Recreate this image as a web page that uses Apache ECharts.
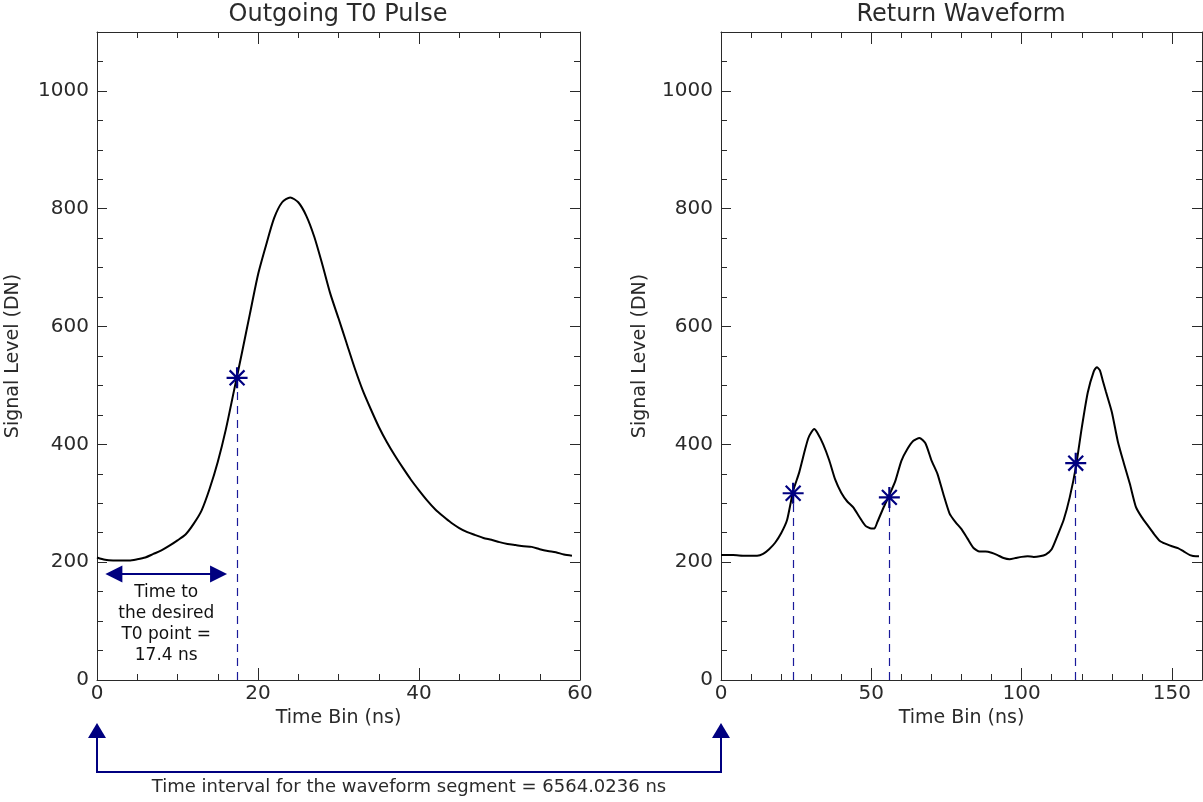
<!DOCTYPE html>
<html><head><meta charset="utf-8">
<script src="https://cdn.jsdelivr.net/npm/echarts@6/dist/echarts.min.js"></script>
<style>html,body{margin:0;padding:0;background:#fff}#c{width:1203px;height:802px}</style>
</head><body><div id="c"></div>
<script>
// ---------- data ----------
const pulseTime = [0,1,2,3,4,5,6,7,8,9,10,11,12,13,14,15,16,17,18,19,20,21,22,23,24,25,26,27,28,29,30,31,32,33,34,35,36,37,38,39,40,41,42,43,44,45,46,47,48,49,50,51,52,53,54,55,56,57,58,59];
const pulseSignal = [208,204,203,203,203,205,208,214,220,228,237,247,265,288,325,370,425,490,555,622,688,738,784,811,819,811,788,752,705,655,614,572,530,492,460,430,404,381,360,340,322,305,290,278,267,258,251,246,241,238,234,231,229,227,226,222,219,217,213,211];
const returnTime = [0,4,8,12,14,16,18,20,22,24,26,28,29,30,31,32,34,36,38,40,42,44,46,48,50,51,52,54,56,58,60,62,64,66,68,70,72,74,76,78,80,82,84,86,88,90,92,94,96,98,100,102,104,106,108,110,112,114,116,118,120,122,124,125,126,127,128,130,132,134,136,138,140,142,144,146,148,150,152,154,156,158,159];
const returnSignal = [212,212,211,211,214,222,233,249,272,321,352,392,410,420,426,420,400,373,340,318,303,293,277,262,257,257,268,292,314,338,372,392,406,411,402,373,350,315,283,268,256,240,224,218,218,216,212,207,205,207,209,210,209,210,213,222,246,272,310,360,428,488,524,531,526,508,490,455,405,368,333,294,276,262,248,236,231,227,224,218,212,210,210];
const pulseT0 = [[17.4, 513]];
const returnT0 = [[24, 317], [56, 310], [118, 368]];
const pulseXMajor = [0, 20, 40, 60];
const pulseXMinor = [5, 10, 15, 25, 30, 35, 45, 50, 55];
const returnXMajor = [0, 50, 100, 150];
const returnXMinor = [10, 20, 30, 40, 60, 70, 80, 90, 110, 120, 130, 140];
const yMajor = [0, 200, 400, 600, 800, 1000];
const yMinor = [50, 100, 150, 250, 300, 350, 450, 500, 550, 650, 700, 750, 850, 900, 950, 1050];
const arrowSpan = [[2.1, 180], [15.1, 180]];
const noteAnchor = [8.6, 95];
const noteText = ['Time to', 'the desired', 'T0 point =', '17.4 ns'];
const titles = ['Outgoing T0 Pulse', 'Return Waveform'];
const xName = 'Time Bin (ns)';
const yName = 'Signal Level (DN)';
const intervalText = 'Time interval for the waveform segment = 6564.0236 ns';

// ---------- style ----------
const FONT = 'DejaVu Sans';
const INK = '#2a2a2a';
const NAVY = '#000080';
const DASH = '#1a1a9a';
const STAR = 'path://M0,-10L0,10M-10,0L10,0M-7.07,-7.07L7.07,7.07M-7.07,7.07L7.07,-7.07';
const plain = v => String(v);

function xAxes(grid, max, major, minor) {
  const common = {type: 'value', gridIndex: grid, min: 0, max: max, splitLine: {show: false}};
  const line = {show: true, onZero: false, lineStyle: {color: INK, width: 1}};
  return [
    Object.assign({}, common, {
      position: 'bottom', name: xName, nameLocation: 'middle', nameGap: 20,
      nameTextStyle: {fontFamily: FONT, fontSize: 19, color: INK},
      axisLine: line,
      axisTick: {show: true, inside: true, length: 12, customValues: major, lineStyle: {color: INK}},
      axisLabel: {show: true, customValues: major, formatter: plain, margin: 4, fontFamily: FONT, fontSize: 20, color: INK}
    }),
    Object.assign({}, common, {
      position: 'bottom', axisLine: {show: false, onZero: false},
      axisTick: {show: true, inside: true, length: 6, customValues: minor, lineStyle: {color: INK}},
      axisLabel: {show: false}
    }),
    Object.assign({}, common, {
      position: 'top', axisLine: line,
      axisTick: {show: true, inside: true, length: 12, customValues: major, lineStyle: {color: INK}},
      axisLabel: {show: false}
    }),
    Object.assign({}, common, {
      position: 'top', axisLine: {show: false, onZero: false},
      axisTick: {show: true, inside: true, length: 6, customValues: minor, lineStyle: {color: INK}},
      axisLabel: {show: false}
    })
  ];
}
function yAxes(grid, gap) {
  const common = {type: 'value', gridIndex: grid, min: 0, max: 1100, splitLine: {show: false}};
  const line = {show: true, onZero: false, lineStyle: {color: INK, width: 1}};
  return [
    Object.assign({}, common, {
      position: 'left', name: yName, nameLocation: 'middle', nameGap: gap, nameRotate: 90,
      nameTextStyle: {fontFamily: FONT, fontSize: 19, color: INK},
      axisLine: line,
      axisTick: {show: true, inside: true, length: 10, customValues: yMajor, lineStyle: {color: INK}},
      axisLabel: {show: true, customValues: yMajor, formatter: plain, margin: 8, fontFamily: FONT, fontSize: 20, color: INK}
    }),
    Object.assign({}, common, {
      position: 'left', axisLine: {show: false, onZero: false},
      axisTick: {show: true, inside: true, length: 6, customValues: yMinor, lineStyle: {color: INK}},
      axisLabel: {show: false}
    }),
    Object.assign({}, common, {
      position: 'right', axisLine: line,
      axisTick: {show: true, inside: true, length: 10, customValues: yMajor, lineStyle: {color: INK}},
      axisLabel: {show: false}
    }),
    Object.assign({}, common, {
      position: 'right', axisLine: {show: false, onZero: false},
      axisTick: {show: true, inside: true, length: 6, customValues: yMinor, lineStyle: {color: INK}},
      axisLabel: {show: false}
    })
  ];
}
function zip(xs, ys) { return xs.map((x, i) => [x, ys[i]]); }
function dropLines(points) {
  return points.map(p => [{coord: [p[0], 0]}, {coord: [p[0], p[1]]}]);
}
function starSeries(points, xi, yi) {
  return {
    type: 'scatter', xAxisIndex: xi, yAxisIndex: yi, data: points, z: 5,
    symbol: STAR, symbolSize: 21,
    itemStyle: {color: 'rgba(0,0,0,0)', borderColor: NAVY, borderWidth: 2.2, opacity: 1},
    silent: true,
    markLine: {
      silent: true, symbol: ['none', 'none'], animation: false, z: 1,
      lineStyle: {color: DASH, width: 1.2, type: [8, 6], opacity: 1},
      label: {show: false},
      data: dropLines(points)
    }
  };
}

const chart = echarts.init(document.getElementById('c'), null, {renderer: 'canvas'});
const option = {
  backgroundColor: '#fff',
  animation: false,
  title: [
    {text: titles[0], left: 338, top: 3, textAlign: 'center', padding: 0,
     textStyle: {fontFamily: FONT, fontSize: 24, fontWeight: 'normal', color: INK}},
    {text: titles[1], left: 961, top: 3, textAlign: 'center', padding: 0,
     textStyle: {fontFamily: FONT, fontSize: 24, fontWeight: 'normal', color: INK}}
  ],
  grid: [
    {left: 97, top: 32, width: 483, height: 648, containLabel: false},
    {left: 721, top: 32, width: 481, height: 648, containLabel: false}
  ],
  xAxis: xAxes(0, 60, pulseXMajor, pulseXMinor).concat(xAxes(1, 160, returnXMajor, returnXMinor)),
  yAxis: yAxes(0, 74).concat(yAxes(1, 71)),
  series: [
    {
      type: 'line', name: 'Outgoing T0 Pulse', xAxisIndex: 0, yAxisIndex: 0,
      data: zip(pulseTime, pulseSignal), showSymbol: false, symbol: 'none', smooth: 0.25,
      lineStyle: {color: '#000', width: 2}, silent: true,
      markLine: {
        silent: true, animation: false, symbol: ['triangle', 'triangle'], symbolSize: 17,
        lineStyle: {color: NAVY, width: 2, type: 'solid'}, itemStyle: {color: NAVY},
        label: {show: false},
        data: [[{coord: arrowSpan[0]}, {coord: arrowSpan[1]}]]
      },
      markPoint: {
        silent: true, animation: false, symbol: 'circle', symbolSize: 1,
        itemStyle: {color: 'rgba(0,0,0,0)'},
        label: {show: true, position: 'inside', formatter: noteText.join('\n'),
                fontFamily: FONT, fontSize: 17, lineHeight: 21, color: '#111', align: 'center'},
        data: [{coord: noteAnchor}]
      }
    },
    starSeries(pulseT0, 0, 0),
    {
      type: 'line', name: 'Return Waveform', xAxisIndex: 4, yAxisIndex: 4,
      data: zip(returnTime, returnSignal), showSymbol: false, symbol: 'none', smooth: 0.2,
      lineStyle: {color: '#000', width: 2}, silent: true
    },
    starSeries(returnT0, 4, 4)
  ]
};
chart.setOption(option);

// bottom bracket annotation, anchored to x = 0 of each plot
const a = chart.convertToPixel({xAxisIndex: 0, yAxisIndex: 0}, [0, 0]);
const b = chart.convertToPixel({xAxisIndex: 4, yAxisIndex: 4}, [0, 0]);
const base = a[1];
const tipY = base + 43, headY = base + 58, lineY = base + 92, textY = base + 107;
function head(x) {
  return {type: 'polygon', shape: {points: [[x - 9, headY], [x + 9, headY], [x, tipY]]},
          style: {fill: NAVY}, silent: true};
}
chart.setOption({
  graphic: [
    {type: 'polyline', shape: {points: [[a[0], headY], [a[0], lineY], [b[0], lineY], [b[0], headY]]},
     style: {stroke: NAVY, lineWidth: 2, fill: null}, silent: true},
    head(a[0]), head(b[0]),
    {type: 'text', x: (a[0] + b[0]) / 2, y: textY, silent: true,
     style: {text: intervalText, fontFamily: FONT, fontSize: 18, fill: INK, align: 'center', verticalAlign: 'middle'}}
  ]
});
</script></body></html>
